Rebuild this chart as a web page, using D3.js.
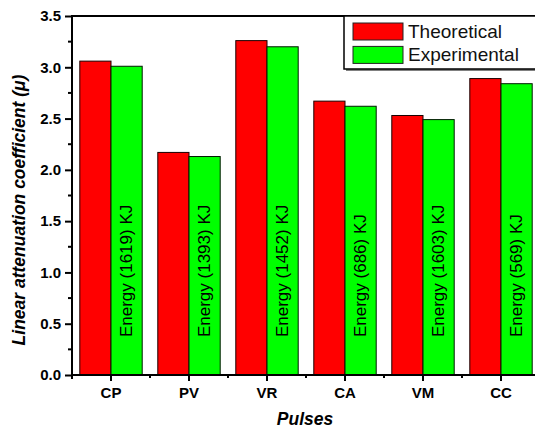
<!DOCTYPE html>
<html>
<head>
<meta charset="utf-8">
<script src="https://cdn.jsdelivr.net/npm/d3@7"></script>
<style>
  body { margin: 0; background: #fff; }
  svg { display: block; font-family: "Liberation Sans", Arial, sans-serif; }
</style>
</head>
<body>
<div id="chart"></div>
<script>
var width = 535
var height = 427

// data
const pulses = ["CP", "PV", "VR", "CA", "VM", "CC"];
const theoretical = [3.06, 2.17, 3.26, 2.67, 2.53, 2.89];
const experimental = [3.01, 2.13, 3.20, 2.62, 2.49, 2.84];
const energies = [1619, 1393, 1452, 686, 1603, 569];
const seriesNames = ["Theoretical", "Experimental"];
const seriesColors = ["#ff0000", "#00ff00"];
const yTicks = [0, 0.5, 1.0, 1.5, 2.0, 2.5, 3.0, 3.5];

var svg = d3.select("#chart").append("svg")
    .attr("width", width)
    .attr("height", height)

const margin = {top: 16, right: -5, bottom: 52, left: 72}
const innerWidth = width - margin.left - margin.right;
const innerHeight = height - margin.top - margin.bottom;

const xScale = d3.scaleBand()
    .domain(pulses)
    .range([0, innerWidth])
    .paddingInner(0.2)
    .paddingOuter(0.1);

const yScale = d3.scaleLinear()
    .domain([0, 3.5])
    .range([innerHeight, 0]);

const g = svg.append("g")
    .attr("transform", `translate(${margin.left}, ${margin.top})`)

const barW = xScale.bandwidth() / 2;
const rows = pulses.map((p, i) => ({p, t: theoretical[i], e: experimental[i], en: energies[i]}));

// bars
const grp = g.selectAll(".grp").data(rows).enter().append("g")
    .attr("transform", d => `translate(${xScale(d.p)},0)`)

grp.append("rect")
    .attr("x", 0)
    .attr("y", d => yScale(d.t))
    .attr("width", barW)
    .attr("height", d => innerHeight - yScale(d.t))
    .attr("fill", seriesColors[0])
    .attr("stroke", "#1a0000")
    .attr("stroke-width", 1)

grp.append("rect")
    .attr("x", barW)
    .attr("y", d => yScale(d.e))
    .attr("width", barW)
    .attr("height", d => innerHeight - yScale(d.e))
    .attr("fill", seriesColors[1])
    .attr("stroke", "#001a00")
    .attr("stroke-width", 1)

grp.append("text")
    .attr("transform", d => `translate(${barW * 1.5 + 5}, ${yScale(0.37)}) rotate(-90)`)
    .attr("font-size", 17)
    .attr("fill", "#000")
    .text(d => `Energy (${d.en}) KJ`)

// y axis
const yAxis = d3.axisLeft(yScale)
    .tickValues(yTicks)
    .tickFormat(d3.format(".1f"))
    .tickSize(7)
    .tickPadding(4);
const yg = g.append("g").call(yAxis);
yg.select(".domain").remove();
yg.selectAll(".tick line").attr("stroke", "#000").attr("stroke-width", 2);
yg.selectAll(".tick text")
    .attr("font-size", 15)
    .attr("font-weight", "bold")
    .attr("font-family", "Liberation Sans, Arial, sans-serif")
    .attr("fill", "#000");

const yMinor = d3.range(0.25, 3.5, 0.5);
g.selectAll(".ymin").data(yMinor).enter().append("line")
    .attr("x1", -4).attr("x2", 0)
    .attr("y1", d => yScale(d)).attr("y2", d => yScale(d))
    .attr("stroke", "#000").attr("stroke-width", 2)

// x axis
const xAxis = d3.axisBottom(xScale)
    .tickSize(6)
    .tickPadding(6);
const xg = g.append("g")
    .attr("transform", `translate(0, ${innerHeight})`)
    .call(xAxis);
xg.select(".domain").remove();
xg.selectAll(".tick line").attr("stroke", "#000").attr("stroke-width", 2);
xg.selectAll(".tick text")
    .attr("font-size", 15)
    .attr("font-weight", "bold")
    .attr("font-family", "Liberation Sans, Arial, sans-serif")
    .attr("fill", "#000");

const step = xScale.step();
const xMinor = pulses.slice(1).map(p => xScale(p) + xScale.bandwidth() / 2 - step / 2);
g.selectAll(".xmin").data(xMinor).enter().append("line")
    .attr("x1", d => d).attr("x2", d => d)
    .attr("y1", innerHeight).attr("y2", innerHeight + 3)
    .attr("stroke", "#000").attr("stroke-width", 2)

// frame
g.append("line").attr("x1", 0).attr("x2", 0).attr("y1", -1).attr("y2", innerHeight + 4)
    .attr("stroke", "#000").attr("stroke-width", 2)
g.append("line").attr("x1", -1).attr("x2", innerWidth).attr("y1", innerHeight).attr("y2", innerHeight)
    .attr("stroke", "#000").attr("stroke-width", 2)
g.append("line").attr("x1", 0).attr("x2", innerWidth).attr("y1", 0).attr("y2", 0)
    .attr("stroke", "#000").attr("stroke-width", 2)

// axis titles
svg.append("text")
    .attr("x", margin.left + innerWidth / 2 - 1)
    .attr("y", 425)
    .attr("text-anchor", "middle")
    .attr("font-size", 17.5)
    .attr("font-weight", "bold")
    .attr("font-style", "italic")
    .text("Pulses")

svg.append("text")
    .attr("transform", `translate(25, 210) rotate(-90)`)
    .attr("text-anchor", "middle")
    .attr("font-size", 17.5)
    .attr("font-weight", "bold")
    .attr("font-style", "italic")
    .text("Linear attenuation coefficient (\u03bc)")

// legend
const lg = svg.append("g").attr("transform", "translate(344, 16)")
lg.append("rect").attr("x", 2).attr("y", 2).attr("width", 200).attr("height", 53)
    .attr("fill", "#808080")
lg.append("rect").attr("x", 0).attr("y", 0).attr("width", 200).attr("height", 53)
    .attr("fill", "#fff").attr("stroke", "#000").attr("stroke-width", 1.5)

const items = lg.selectAll(".item").data(seriesNames).enter().append("g")
    .attr("transform", (d, i) => `translate(9, ${7 + i * 23.4})`)
items.append("rect")
    .attr("width", 50).attr("height", 17)
    .attr("fill", (d, i) => seriesColors[i])
    .attr("stroke", "#222").attr("stroke-width", 1)
items.append("text")
    .attr("x", 55).attr("y", 15)
    .attr("font-size", 19)
    .attr("fill", "#111")
    .text(d => d)
</script>
</body>
</html>
